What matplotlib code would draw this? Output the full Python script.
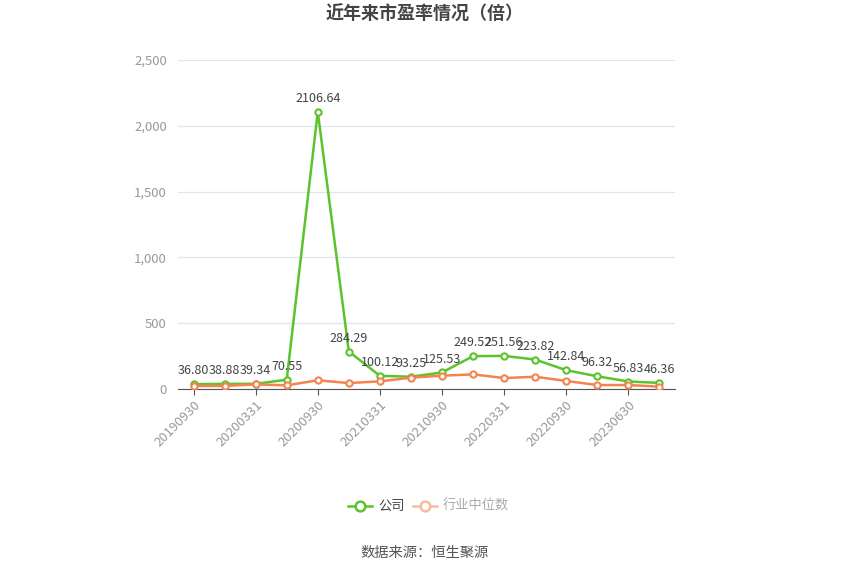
import numpy as np
import matplotlib.pyplot as plt
from matplotlib.ticker import FuncFormatter

plt.rcParams['font.family'] = ['Noto Sans CJK SC', 'DejaVu Sans']

dates = ["20190930", "20191231", "20200331", "20200630", "20200930", "20201231",
         "20210331", "20210630", "20210930", "20211231", "20220331", "20220630",
         "20220930", "20221231", "20230630", "20230930"]
gongsi = [36.80, 38.88, 39.34, 70.55, 2106.64, 284.29, 100.12, 93.25, 125.53,
          249.52, 251.56, 223.82, 142.84, 96.32, 56.83, 46.36]
hangye = [23, 23, 35, 28, 66, 45, 58, 86, 101, 111, 83, 93, 61, 30, 30, 18]

green = '#5cc42b'
orange = '#f5834f'

fig = plt.figure(figsize=(8.5, 5.75), dpi=100)
ax = fig.add_axes([0.2094, 0.3235, 0.5847, 0.5722])

x = np.arange(len(dates))
ax.plot(x, gongsi, color=green, lw=1.8, marker='o', ms=4.5, mfc='white',
        mec=green, mew=1.5, zorder=3)
ax.plot(x, hangye, color=orange, lw=1.8, marker='o', ms=4.5, mfc='white',
        mec=orange, mew=1.5, zorder=3)

for i, v in enumerate(gongsi):
    ax.annotate(f"{v:.2f}", (i, v), xytext=(0, 5), textcoords='offset points',
                ha='center', va='bottom', fontsize=9, color='#444444')

ax.set_xlim(-0.5, len(dates) - 0.5)
ax.set_ylim(0, 2500)
ax.set_yticks(np.arange(0, 2501, 500))
ax.yaxis.set_major_formatter(FuncFormatter(lambda v, p: f"{int(v):,}"))
ax.set_xticks(x[::2])
ax.set_xticklabels(dates[::2], rotation=45, ha='right', rotation_mode='anchor')

ax.grid(axis='y', color='#e0e6f1', lw=0.9)
ax.set_axisbelow(True)
for s in ['top', 'right', 'left']:
    ax.spines[s].set_visible(False)
ax.spines['bottom'].set_color('#555555')
ax.tick_params(axis='y', length=0, colors='#999999', labelsize=9.5, pad=8)
ax.tick_params(axis='x', length=4, color='#555555', colors='#999999',
               labelsize=9.5, pad=3)

fig.text(0.5, 0.975, "近年来市盈率情况（倍）", ha='center', va='center',
         fontsize=13, fontweight='bold', color='#444444')

# legend drawn by hand in figure coords
ly = 1 - 506 / 575
fig.lines.append(plt.Line2D([0.409, 0.424, 0.438], [ly, ly, ly],
                            transform=fig.transFigure, color=green, lw=1.8,
                            marker='o', ms=7, mfc='white', mec=green,
                            mew=1.8, markevery=[1]))
fig.text(0.445, ly, "公司", ha='left', va='center', fontsize=9.5, color='#444444')
fig.lines.append(plt.Line2D([0.486, 0.5, 0.514], [ly, ly, ly],
                            transform=fig.transFigure, color='#f9bba0', lw=1.8,
                            marker='o', ms=7, mfc='white', mec='#f9bba0',
                            mew=1.8, markevery=[1]))
fig.text(0.521, ly, "行业中位数", ha='left', va='center', fontsize=9.5,
         color='#aaaaaa')

fig.text(0.5, 1 - 553 / 575, "数据来源：恒生聚源", ha='center', va='center',
         fontsize=10.3, color='#555555')

fig.savefig('out.png', dpi=100)
